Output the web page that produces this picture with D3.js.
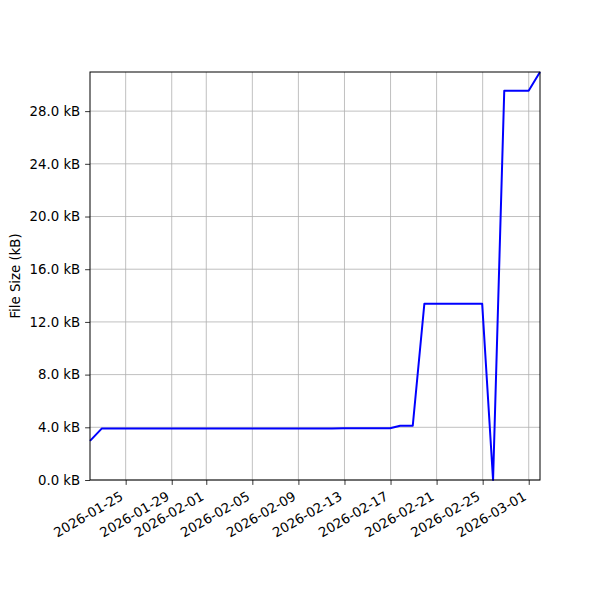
<!DOCTYPE html>
<html>
<head>
<meta charset="utf-8">
<script src="https://cdn.jsdelivr.net/npm/d3@7"></script>
<style>
  body { margin: 0; background: #fff; }
  text { font-family: "DejaVu Sans", sans-serif; }
</style>
</head>
<body>
<div id="chart"></div>
<script>
'use strict';

// data (timestamps UTC, sizes in kB)
var times = [
  "2026-01-21T21:40", "2026-01-22T22:00", "2026-02-11T22:00", "2026-02-12T21:40",
  "2026-02-16T23:00", "2026-02-17T20:00", "2026-02-18T22:20", "2026-02-19T22:30",
  "2026-02-24T23:00", "2026-02-25T21:40", "2026-02-26T21:00", "2026-02-28T23:50",
  "2026-03-01T23:30"
];
var sizes = [2.97, 3.90, 3.90, 3.93, 3.93, 4.12, 4.12, 13.38, 13.38, 0, 29.55, 29.55, 30.97];

var xTickDates = ["2026-01-25", "2026-01-29", "2026-02-01", "2026-02-05", "2026-02-09",
  "2026-02-13", "2026-02-17", "2026-02-21", "2026-02-25", "2026-03-01"];
var yTicks = [0, 4, 8, 12, 16, 20, 24, 28];

var parseTime = d3.utcParse("%Y-%m-%dT%H:%M");
var parseDay = d3.utcParse("%Y-%m-%d");

var data = times.map(function(t, i) { return {time: parseTime(t), size: sizes[i]}; });

// set the dimensions and margins of the graph
var margin = {top: 72, right: 60, bottom: 120, left: 90},
  width = 600 - margin.left - margin.right,
  height = 600 - margin.top - margin.bottom;

var x = d3.scaleUtc()
  .domain(d3.extent(data, function(d) { return d.time; }))
  .range([0, width]);
var y = d3.scaleLinear()
  .domain([0, d3.max(data, function(d) { return d.size; })])
  .range([height, 0]);

var svg = d3.select("#chart").append("svg")
  .attr("width", 600)
  .attr("height", 600)
  .append("g")
    .attr("transform", "translate(" + margin.left + "," + margin.top + ")");

// grid
svg.append("g")
  .selectAll("line.xg")
  .data(xTickDates)
  .enter().append("line")
    .attr("x1", function(d) { return x(parseDay(d)); })
    .attr("x2", function(d) { return x(parseDay(d)); })
    .attr("y1", 0).attr("y2", height)
    .attr("stroke", "#b0b0b0").attr("stroke-width", 0.8);
svg.append("g")
  .selectAll("line.yg")
  .data(yTicks)
  .enter().append("line")
    .attr("x1", 0).attr("x2", width)
    .attr("y1", function(d) { return y(d); })
    .attr("y2", function(d) { return y(d); })
    .attr("stroke", "#b0b0b0").attr("stroke-width", 0.8);

// the line
var sizeline = d3.line()
  .x(function(d) { return x(d.time); })
  .y(function(d) { return y(d.size); });

svg.append("path")
  .datum(data)
  .attr("fill", "none")
  .attr("stroke", "#0000ff")
  .attr("stroke-width", 2)
  .attr("stroke-linejoin", "round")
  .attr("d", sizeline);

// frame
svg.append("rect")
  .attr("width", width).attr("height", height)
  .attr("fill", "none").attr("stroke", "#000").attr("stroke-width", 1);

// x axis
var xAxis = svg.append("g")
  .attr("transform", "translate(0," + height + ")")
  .call(d3.axisBottom(x)
    .tickValues(xTickDates.map(parseDay))
    .tickSize(4.9)
    .tickFormat(d3.utcFormat("%Y-%m-%d")));
xAxis.select(".domain").remove();
xAxis.selectAll("line").attr("stroke-width", 0.8);
xAxis.selectAll("text")
  .attr("font-size", 13.3)
  .attr("fill", "#000")
  .attr("text-anchor", "end")
  .attr("dy", null)
  .attr("y", null)
  .attr("transform", "translate(-2,19) rotate(-30)");

// y axis
var yAxis = svg.append("g")
  .call(d3.axisLeft(y)
    .tickValues(yTicks)
    .tickSize(4.9)
    .tickPadding(4.9)
    .tickFormat(function(d) { return d3.format(".1f")(d) + " kB"; }));
yAxis.select(".domain").remove();
yAxis.selectAll("line").attr("stroke-width", 0.8);
yAxis.selectAll("text").attr("font-size", 13.3).attr("fill", "#000");

svg.append("text")
  .attr("transform", "translate(" + (-70) + "," + (height / 2) + ") rotate(-90)")
  .attr("text-anchor", "middle")
  .attr("font-size", 13.3)
  .text("File Size (kB)");
</script>
</body>
</html>
